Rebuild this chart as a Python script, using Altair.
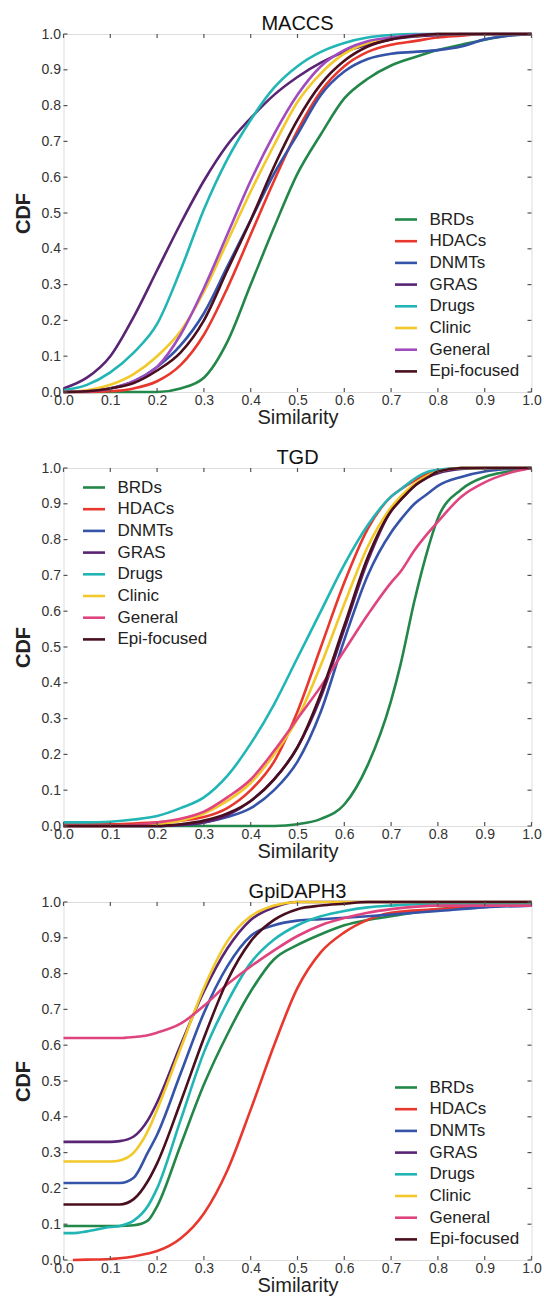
import altair as alt
import pandas as pd

SERIES = ["BRDs", "HDACs", "DNMTs", "GRAS", "Drugs", "Clinic", "General", "Epi-focused"]
COLORS_MACCS = ["#23874a", "#e8382e", "#3553a8", "#5a2474", "#22b5b5", "#f2c82a", "#a04cc0", "#4a0f1e"]
COLORS_OTHER = ["#23874a", "#e8382e", "#3553a8", "#5a2474", "#22b5b5", "#f2c82a", "#e0447f", "#4a0f1e"]
TICKS = [0.0, 0.1, 0.2, 0.3, 0.4, 0.5, 0.6, 0.7, 0.8, 0.9, 1.0]

# ---------------- MACCS ----------------
MACCS_X = [0, .05, .1, .15, .2, .25, .3, .35, .4, .45, .5, .55, .6, .65, .7, .75, .8, .85, .9, .95, 1.0]
MACCS_BRDs = [0, 0, 0, 0, 0, 0.01, 0.04, 0.14, 0.3, 0.46, 0.61, 0.72, 0.82, 0.875, 0.912, 0.935, 0.955, 0.97, 0.984, 0.995, 1.0]
MACCS_HDACs = [0, 0, 0.002, 0.01, 0.03, 0.075, 0.16, 0.29, 0.44, 0.59, 0.73, 0.84, 0.91, 0.95, 0.97, 0.98, 0.99, 0.995, 1, 1, 1]
MACCS_DNMTs = [0, 0.003, 0.01, 0.03, 0.07, 0.13, 0.22, 0.35, 0.48, 0.61, 0.72, 0.83, 0.895, 0.93, 0.945, 0.95, 0.955, 0.965, 0.985, 0.995, 1.0]
MACCS_GRAS = [0.01, 0.04, 0.1, 0.21, 0.34, 0.47, 0.59, 0.69, 0.765, 0.83, 0.88, 0.92, 0.95, 0.97, 0.985, 0.993, 0.997, 1, 1, 1, 1]
MACCS_Drugs = [0.005, 0.02, 0.055, 0.11, 0.19, 0.34, 0.51, 0.65, 0.76, 0.85, 0.91, 0.95, 0.975, 0.99, 0.997, 1, 1, 1, 1, 1, 1]
MACCS_Clinic = [0, 0.005, 0.02, 0.05, 0.1, 0.17, 0.28, 0.42, 0.56, 0.69, 0.81, 0.89, 0.945, 0.975, 0.99, 0.995, 1, 1, 1, 1, 1]
MACCS_General = [0, 0.002, 0.01, 0.03, 0.07, 0.16, 0.29, 0.44, 0.59, 0.72, 0.83, 0.91, 0.955, 0.98, 0.99, 0.997, 1, 1, 1, 1, 1]
MACCS_Epi = [0, 0.002, 0.01, 0.025, 0.06, 0.11, 0.2, 0.34, 0.48, 0.63, 0.76, 0.86, 0.925, 0.965, 0.985, 0.995, 1, 1, 1, 1, 1]

# ---------------- TGD ----------------
TGD_X = [0, .05, .1, .15, .2, .25, .3, .35, .4, .45, .5, .55, .6, .65, .7, .72, .75, .78, .8, .85, .9, .95, 1.0]
TGD_BRDs = [0, 0, 0, 0, 0, 0, 0, 0, 0, 0, 0.005, 0.02, 0.06, 0.17, 0.35, 0.45, 0.63, 0.78, 0.86, 0.94, 0.975, 0.99, 1]
TGD_HDACs = [0.005, 0.005, 0.005, 0.007, 0.01, 0.015, 0.025, 0.05, 0.1, 0.18, 0.32, 0.5, 0.68, 0.83, 0.92, 0.94, 0.965, 0.985, 0.99, 1, 1, 1, 1]
TGD_DNMTs = [0, 0, 0, 0, 0, 0.003, 0.01, 0.025, 0.05, 0.1, 0.18, 0.32, 0.52, 0.7, 0.82, 0.855, 0.9, 0.93, 0.95, 0.975, 0.99, 0.997, 1]
TGD_GRAS = [0, 0, 0, 0, 0, 0.003, 0.01, 0.03, 0.07, 0.13, 0.22, 0.36, 0.55, 0.74, 0.88, 0.91, 0.95, 0.975, 0.985, 0.997, 1, 1, 1]
TGD_Drugs = [0.01, 0.01, 0.012, 0.018, 0.028, 0.05, 0.08, 0.14, 0.23, 0.34, 0.47, 0.6, 0.73, 0.84, 0.92, 0.94, 0.97, 0.99, 0.995, 1, 1, 1, 1]
TGD_Clinic = [0, 0, 0, 0.002, 0.005, 0.015, 0.035, 0.07, 0.12, 0.2, 0.3, 0.45, 0.62, 0.78, 0.89, 0.92, 0.955, 0.98, 0.99, 1, 1, 1, 1]
TGD_General = [0, 0, 0, 0.003, 0.01, 0.02, 0.04, 0.08, 0.13, 0.21, 0.3, 0.39, 0.49, 0.59, 0.68, 0.71, 0.77, 0.82, 0.85, 0.92, 0.96, 0.985, 1]
TGD_Epi = [0, 0, 0, 0, 0, 0.005, 0.015, 0.035, 0.07, 0.13, 0.22, 0.37, 0.56, 0.75, 0.88, 0.91, 0.95, 0.975, 0.99, 1, 1, 1, 1]

# ---------------- GpiDAPH3 ----------------
GPI_X = [0, .02, .05, .1, .12, .15, .18, .2, .25, .3, .35, .4, .45, .5, .55, .6, .65, .7, .8, .9, 1.0]
GPI_BRDs = [0.095, 0.095, 0.095, 0.095, 0.095, 0.097, 0.11, 0.15, 0.32, 0.49, 0.63, 0.75, 0.84, 0.88, 0.91, 0.935, 0.95, 0.96, 0.98, 0.99, 1.0]
GPI_HDACs = [None, 0.0, 0.001, 0.003, 0.005, 0.01, 0.018, 0.025, 0.06, 0.13, 0.25, 0.42, 0.6, 0.76, 0.86, 0.915, 0.95, 0.97, 0.98, 0.99, 0.99]
GPI_DNMTs = [0.215, 0.215, 0.215, 0.215, 0.215, 0.23, 0.3, 0.35, 0.52, 0.69, 0.82, 0.905, 0.935, 0.948, 0.952, 0.956, 0.96, 0.965, 0.975, 0.985, 0.99]
GPI_GRAS = [0.33, 0.33, 0.33, 0.33, 0.332, 0.345, 0.39, 0.44, 0.6, 0.75, 0.87, 0.95, 0.985, 1, 1, 1, 1, 1, 1, 1, 1]
GPI_Drugs = [0.075, 0.075, 0.08, 0.092, 0.095, 0.11, 0.15, 0.2, 0.39, 0.58, 0.72, 0.83, 0.895, 0.935, 0.96, 0.975, 0.985, 0.99, 0.995, 0.995, 0.995]
GPI_Clinic = [0.275, 0.275, 0.275, 0.275, 0.278, 0.3, 0.36, 0.42, 0.59, 0.76, 0.89, 0.96, 0.99, 1, 1, 1, 1, 1, 1, 1, 1]
GPI_General = [0.62, 0.62, 0.62, 0.62, 0.62, 0.623, 0.628, 0.635, 0.66, 0.71, 0.77, 0.82, 0.865, 0.905, 0.935, 0.955, 0.97, 0.98, 0.99, 0.99, 0.99]
GPI_Epi = [0.155, 0.155, 0.155, 0.155, 0.155, 0.17, 0.22, 0.27, 0.44, 0.62, 0.78, 0.89, 0.95, 0.98, 0.99, 0.995, 1, 1, 1, 1, 1]

W, H = 468, 358
FONT = "Liberation Sans"


def build_df(grid, cols):
    rows = []
    for name, vals in zip(SERIES, cols):
        for i, (x, y) in enumerate(zip(grid, vals)):
            if y is None:
                continue
            rows.append({"Similarity": x, "CDF": y, "series": name, "order": i})
    return pd.DataFrame(rows)


def panel(title, grid, cols, colors, leg_x, leg_y):
    df = build_df(grid, cols)
    xs = alt.Scale(domain=[0, 1], nice=False, zero=False)
    ys = alt.Scale(domain=[0, 1], nice=False, zero=False)
    xaxis = alt.Axis(values=TICKS, format=".1f", title="Similarity", grid=False, ticks=False,
                     domain=False, labelFontSize=14, labelPadding=1, titleFontSize=20,
                     titleFontWeight="normal", titlePadding=0, labelColor="#333", titleColor="#222",
                     labelFont=FONT, titleFont=FONT, labelFlush=False)
    yaxis = alt.Axis(values=TICKS, format=".1f", title="CDF", grid=False, ticks=False,
                     domain=False, labelFontSize=14, labelPadding=3, titleFontSize=20,
                     titleFontWeight="bold", titlePadding=8, labelColor="#333", titleColor="#222",
                     labelFont=FONT, titleFont=FONT, labelFlush=False)
    lines = alt.Chart(df).mark_line(strokeWidth=2.6, interpolate="monotone").encode(
        x=alt.X("Similarity:Q", scale=xs, axis=xaxis),
        y=alt.Y("CDF:Q", scale=ys, axis=yaxis),
        color=alt.Color("series:N", sort=SERIES,
                        scale=alt.Scale(domain=SERIES, range=colors),
                        legend=alt.Legend(title=None, orient="none", legendX=leg_x, legendY=leg_y,
                                          symbolType="stroke", symbolSize=484, symbolStrokeWidth=2.6,
                                          labelFontSize=17, labelFont=FONT, labelColor="#222",
                                          labelOffset=11, rowPadding=0.7, padding=0)),
        order="order:Q",
    )
    tdf = pd.DataFrame({"t": TICKS})
    tick_color = "#555"
    bottom = alt.Chart(tdf).mark_rule(color=tick_color, strokeWidth=1.2).encode(
        x=alt.X("t:Q", scale=xs, axis=xaxis), y=alt.value(H), y2=alt.value(H - 4))
    top = alt.Chart(tdf).mark_rule(color=tick_color, strokeWidth=1.2).encode(
        x=alt.X("t:Q", scale=xs, axis=xaxis), y=alt.value(0), y2=alt.value(4))
    left = alt.Chart(tdf).mark_rule(color=tick_color, strokeWidth=1.2).encode(
        y=alt.Y("t:Q", scale=ys, axis=yaxis), x=alt.value(0), x2=alt.value(4))
    right = alt.Chart(tdf).mark_rule(color=tick_color, strokeWidth=1.2).encode(
        y=alt.Y("t:Q", scale=ys, axis=yaxis), x=alt.value(W), x2=alt.value(W - 4))
    return alt.layer(lines, bottom, top, left, right).properties(
        width=W, height=H,
        title=alt.TitleParams(title, fontSize=20, font=FONT, fontWeight="normal", color="#111", offset=-7),
    )


p1 = panel("MACCS", MACCS_X,
           [MACCS_BRDs, MACCS_HDACs, MACCS_DNMTs, MACCS_GRAS, MACCS_Drugs, MACCS_Clinic, MACCS_General, MACCS_Epi],
           COLORS_MACCS, 330, 173)
p2 = panel("TGD", TGD_X,
           [TGD_BRDs, TGD_HDACs, TGD_DNMTs, TGD_GRAS, TGD_Drugs, TGD_Clinic, TGD_General, TGD_Epi],
           COLORS_OTHER, 18, 7)
p3 = panel("GpiDAPH3", GPI_X,
           [GPI_BRDs, GPI_HDACs, GPI_DNMTs, GPI_GRAS, GPI_Drugs, GPI_Clinic, GPI_General, GPI_Epi],
           COLORS_OTHER, 330, 173)

chart = alt.vconcat(p1, p2, p3, spacing=19).resolve_scale(color="independent").resolve_legend(
    color="independent"
).properties(
    padding={"left": 12.5, "top": 13, "right": 0, "bottom": 0},
    background="white",
).configure_view(stroke="#555", strokeWidth=1.5).configure(font=FONT)

chart.save("out.html", embed_options={"renderer": "svg", "actions": False})
